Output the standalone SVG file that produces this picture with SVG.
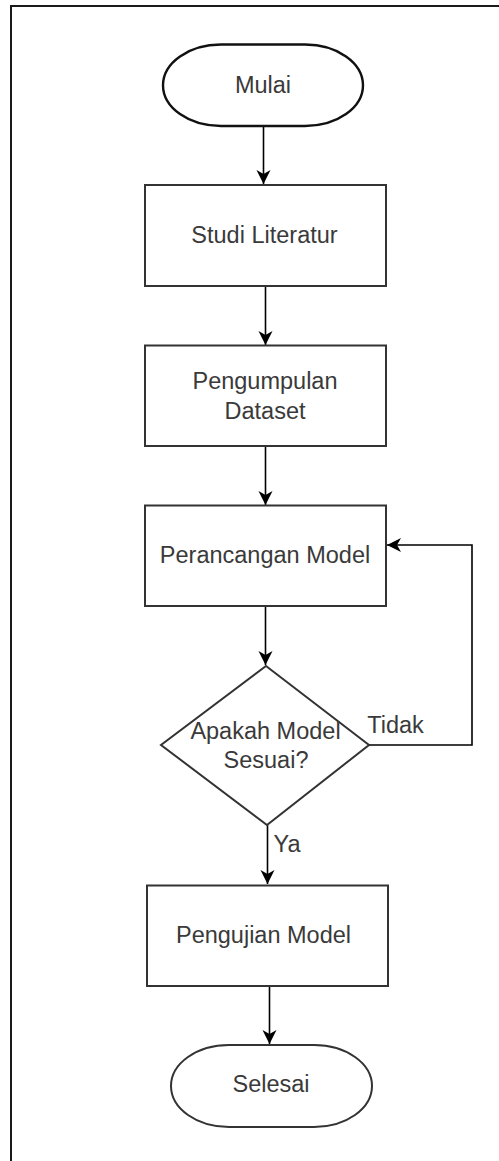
<svg xmlns="http://www.w3.org/2000/svg" width="499" height="1161" viewBox="0 0 499 1161">
  <style>
    .shape { fill: #ffffff; stroke: #333333; stroke-width: 2; }
    .label { font-family: "Liberation Sans", Arial, sans-serif; font-size: 23.5px; fill: #3a3a3a; text-anchor: middle; }
    .edge { fill: none; stroke: #000000; stroke-width: 1.6; }
    .frame { fill: none; stroke: #1a1a1a; stroke-width: 2; }
  </style>
  <defs>
    <marker id="arrow" markerUnits="userSpaceOnUse" markerWidth="16" markerHeight="16" viewBox="-15 -8 16 16" refX="0" refY="0" orient="auto">
      <path d="M0,0 L-14,-7 L-10,0 L-14,7 Z" fill="#000000"/>
    </marker>
  </defs>

  <rect width="499" height="1161" fill="#ffffff"/>
  <!-- page frame -->
  <path class="frame" d="M11,1161 V6 H499"/>

  <!-- connectors -->
  <g id="connectors">
    <path class="edge" d="M263.5,126 V184" marker-end="url(#arrow)"/>
    <path class="edge" d="M265.5,286 V345" marker-end="url(#arrow)"/>
    <path class="edge" d="M265.5,446 V505" marker-end="url(#arrow)"/>
    <path class="edge" d="M265.5,606 V665" marker-end="url(#arrow)"/>
    <path class="edge" d="M267.5,825 V884" marker-end="url(#arrow)"/>
    <path class="edge" d="M269.5,986 V1044" marker-end="url(#arrow)"/>
    <path class="edge" d="M369,745 H472 V545 H387" marker-end="url(#arrow)"/>
    <text class="label" x="395.5" y="732.5">Tidak</text>
    <text class="label" x="287" y="852">Ya</text>
  </g>

  <g id="mulai">
    <rect x="163" y="44.5" width="200" height="81.5" rx="58" ry="40.75" fill="#ffffff" stroke="#111111" stroke-width="2.4"/>
    <text class="label" x="263" y="93">Mulai</text>
  </g>

  <g id="studi-literatur">
    <rect class="shape" x="145" y="185" width="241" height="101"/>
    <text class="label" x="264.5" y="243">Studi Literatur</text>
  </g>

  <g id="pengumpulan-dataset">
    <rect class="shape" x="145" y="345.5" width="241" height="100.5"/>
    <text class="label" x="265" y="389">Pengumpulan</text>
    <text class="label" x="265" y="418.5">Dataset</text>
  </g>

  <g id="perancangan-model">
    <rect class="shape" x="145" y="505.5" width="241" height="100.5"/>
    <text class="label" x="265" y="563">Perancangan Model</text>
  </g>

  <g id="apakah-model-sesuai">
    <path class="shape" d="M266,666 L369,745 L267,825 L161,745 Z"/>
    <text class="label" x="265.5" y="739">Apakah Model</text>
    <text class="label" x="266" y="768">Sesuai?</text>
  </g>

  <g id="pengujian-model">
    <rect class="shape" x="147" y="885.5" width="241" height="100.5"/>
    <text class="label" x="263.5" y="942.5">Pengujian Model</text>
  </g>

  <g id="selesai">
    <rect class="shape" x="171" y="1045" width="201" height="82" rx="58" ry="41"/>
    <text class="label" x="271" y="1092">Selesai</text>
  </g>
</svg>
